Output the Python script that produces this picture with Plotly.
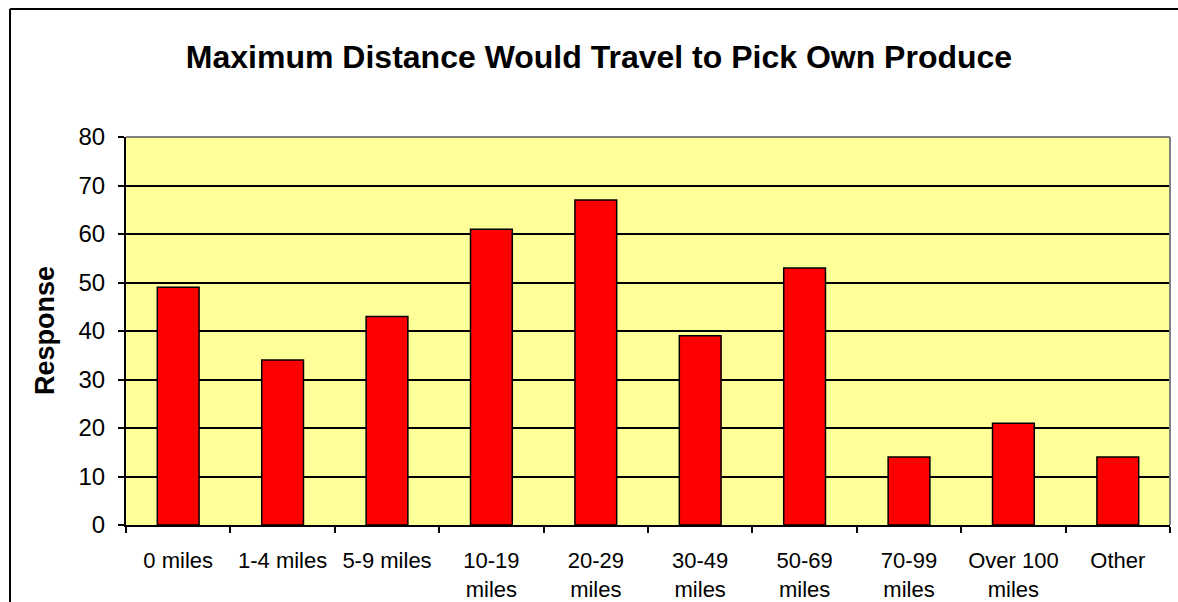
import plotly.graph_objects as go

# Survey responses: farthest distance people would drive to pick their own produce
categories = ["0 miles", "1-4 miles", "5-9 miles", "10-19<br>miles", "20-29<br>miles",
              "30-49<br>miles", "50-69<br>miles", "70-99<br>miles", "Over 100<br>miles", "Other"]
responses = [49, 34, 43, 61, 67, 39, 53, 14, 21, 14]
y_ticks = [0, 10, 20, 30, 40, 50, 60, 70, 80]

W, H = 1178, 602
ML, MR, MT, MB = 126, 8, 137, 77
plot_w = W - ML - MR
plot_h = H - MT - MB

FONT = "Arial, Liberation Sans, sans-serif"

fig = go.Figure(
    go.Bar(
        x=categories,
        y=responses,
        marker=dict(color="#FF0000", line=dict(color="black", width=1.5)),
        hoverinfo="x+y",
    )
)

# outer chart-area frame: only the top and left edges fall inside the page
fx0 = (10 - ML) / plot_w
fy1 = (H - MB - 9) / plot_h
frame_right = (W - ML) / plot_w
frame_bottom = -MB / plot_h
shapes = [
    dict(type="line", xref="paper", yref="paper", x0=fx0, x1=frame_right, y0=fy1, y1=fy1,
         line=dict(color="black", width=2), layer="above"),
    dict(type="line", xref="paper", yref="paper", x0=fx0, x1=fx0, y0=frame_bottom, y1=fy1,
         line=dict(color="black", width=2), layer="above"),
    # grey plot-area border on top and right
    dict(type="line", xref="paper", yref="paper", x0=0, x1=1, y0=1, y1=1,
         line=dict(color="#808080", width=2), layer="above"),
    dict(type="line", xref="paper", yref="paper", x0=1, x1=1, y0=0, y1=1,
         line=dict(color="#808080", width=2), layer="above"),
]

fig.update_layout(
    width=W, height=H,
    margin=dict(l=ML, r=MR, t=MT, b=MB, pad=0),
    paper_bgcolor="white",
    plot_bgcolor="#FFFF99",
    bargap=0.6,
    showlegend=False,
    font=dict(family=FONT, color="black"),
    title=dict(
        text="<b>Maximum Distance Would Travel to Pick Own Produce</b>",
        x=599 / W, xanchor="center", xref="container",
        y=1 - 57 / H, yanchor="middle", yref="container",
        font=dict(size=32, family=FONT, color="black"),
    ),
    shapes=shapes,
    annotations=[
        dict(text="<b>Response</b>", textangle=-90, xref="paper", yref="paper",
             x=(45 - ML) / plot_w, y=0.5, xanchor="center", yanchor="middle",
             showarrow=False, font=dict(size=27, family=FONT, color="black"))
    ],
)

fig.update_xaxes(
    showline=True, linecolor="black", linewidth=2,
    ticks="outside", tickson="boundaries", ticklen=6, tickwidth=1.5, tickcolor="black",
    tickfont=dict(size=22, family=FONT, color="black"),
    ticklabelstandoff=15, automargin=False,
    showgrid=False, zeroline=False, fixedrange=True,
)
fig.update_yaxes(
    range=[0, 80], tickvals=y_ticks,
    showline=True, linecolor="black", linewidth=2,
    ticks="outside", ticklen=6, tickwidth=1.5, tickcolor="black",
    tickfont=dict(size=24, family=FONT, color="black"),
    ticklabelstandoff=8, automargin=False,
    showgrid=True, gridcolor="black", gridwidth=1.5,
    zeroline=False, fixedrange=True,
)

fig.write_html("out.html", config={"displayModeBar": False})
